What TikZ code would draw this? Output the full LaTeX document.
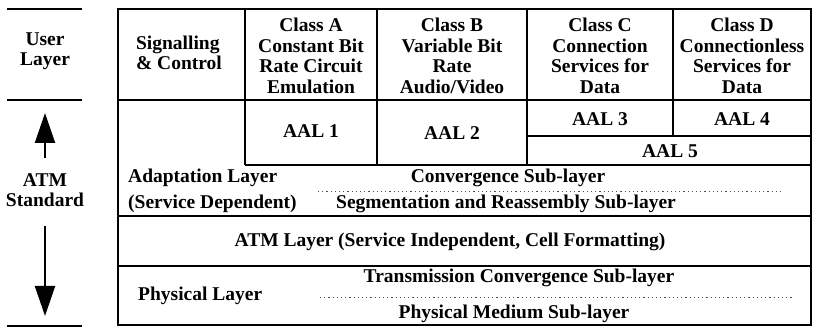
\documentclass[tikz,border=0pt]{standalone}
\usepackage{fontspec}
\setmainfont{Liberation Serif}
\usetikzlibrary{arrows.meta}
\begin{document}
\begin{tikzpicture}[x=1pt,y=-1pt,
  txt/.style={font=\bfseries\fontsize{19.5}{20.5}\selectfont, align=center, inner sep=0pt},
  grid/.style={line width=1.8pt},
  rule/.style={line width=2.3pt},
  dots/.style={line width=0.8pt, dash pattern=on 1.2pt off 3pt, black!70},
  arr/.style={line width=2pt, -{Triangle[length=30pt,width=20pt]}}]
\useasboundingbox (0,0) rectangle (813,328);
% left labels
\draw[rule] (7,9) -- (82,9);
\draw[rule] (7,100) -- (82,100);
\draw[rule] (7,326) -- (82,326);
\node[txt] (user) at (45,51) {User\\Layer};
\node[txt] (std) at (45,190) {ATM\\Standard};
\coordinate (upbase) at (45,158);
\coordinate (uptip) at (45,113);
\coordinate (dnbase) at (45,226);
\coordinate (dntip) at (45,316);
\draw[arr] (upbase) -- (uptip);
\draw[arr] (dnbase) -- (dntip);
% grid
\draw[grid] (118,9) rectangle (811,325);
\draw[grid] (245,9) -- (245,165);
\draw[grid] (377,9) -- (377,165);
\draw[grid] (527,9) -- (527,165);
\draw[grid] (673,9) -- (673,136);
\draw[grid] (118,100) -- (811,100);
\draw[grid] (527,136) -- (811,136);
\draw[grid] (245,165) -- (811,165);
\draw[grid] (118,216) -- (811,216);
\draw[grid] (118,266) -- (811,266);
\draw[dots] (318,191) -- (782,191);
\draw[dots] (320,297) -- (792,297);
% header
\node[txt,align=left] (sig) at (179,53) {Signalling\\\& Control};
\node[txt] (ca) at (311,56) {Class A\\Constant Bit\\Rate Circuit\\Emulation};
\node[txt] (cb) at (452,56) {Class B\\Variable Bit\\Rate\\Audio/Video};
\node[txt] (cc) at (600,56) {Class C\\Connection\\Services for\\Data};
\node[txt] (cd) at (742,56) {Class D\\Connectionless\\Services for\\Data};
% AAL
\node[txt] (aal1) at (311,131) {AAL 1};
\node[txt] (aal2) at (452,133) {AAL 2};
\node[txt] (aal3) at (600,119) {AAL 3};
\node[txt] (aal4) at (742,119) {AAL 4};
\node[txt] (aal5) at (670,151) {AAL 5};
% adaptation
\node[txt,anchor=west] (adapt) at (128,178) {Adaptation Layer};
\node[txt,anchor=west] (sdep) at (128,204) {(Service Dependent)};
\node[txt] (conv) at (508,178) {Convergence Sub-layer};
\node[txt] (seg) at (506,204) {Segmentation and Reassembly Sub-layer};
% ATM layer
\node[txt] (atm) at (450,242) {ATM Layer (Service Independent, Cell Formatting)};
% physical
\node[txt,anchor=west] (phyl) at (138,296) {Physical Layer};
\node[txt] (trans) at (519,278) {Transmission Convergence Sub-layer};
\node[txt] (phym) at (514,314) {Physical Medium Sub-layer};
\end{tikzpicture}
\end{document}
